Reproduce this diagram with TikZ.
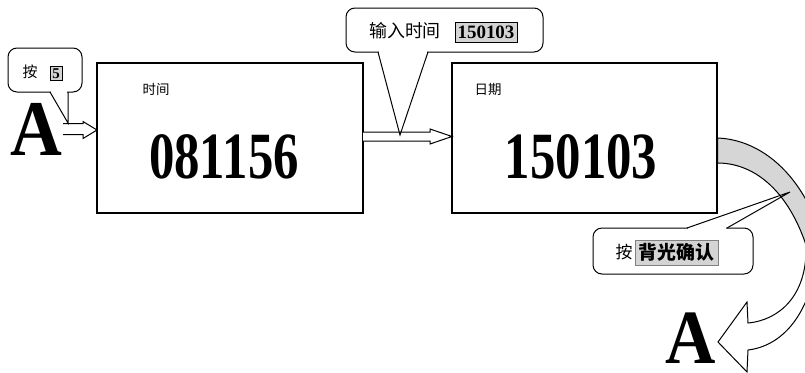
\documentclass[tikz,border=0pt]{standalone}
\usepackage{fontspec}
\setmainfont{Liberation Serif}
\newfontfamily\cjk{Noto Sans CJK SC}
\usetikzlibrary{positioning}
\definecolor{bandgray}{RGB}{214,214,214}
\definecolor{markgray}{RGB}{212,212,212}
\tikzstyle{panel} = [draw, line width=1.1bp, minimum height=150bp, inner sep=0pt]
\tikzstyle{hollow} = [draw, fill=white, line width=1bp, line join=miter]
\tikzstyle{bubble} = [draw, fill=white, line width=1bp, rounded corners=9bp]
\tikzstyle{hilite} = [fill=markgray, draw, line width=0.5bp, inner sep=1bp]
\tikzstyle{bigdigits} = [inner sep=0pt, font=\fontsize{51}{51}\selectfont\bfseries]

\begin{document}
\begin{tikzpicture}[x=1bp, y=-1bp]
\path[use as bounding box] (0,0) rectangle (805,372);
\clip (0,0) rectangle (805,372);

% Time and date panels
\node[panel, minimum width=266bp] (timebox) at (230,138) {};
\node[panel, minimum width=265bp] (datebox) at (584.5,138) {};
\node[inner sep=0pt, font=\cjk\fontsize{13.5}{13.5}\selectfont] (timelabel) at (156,89) {时间};
\node[inner sep=0pt, font=\cjk\fontsize{13.5}{13.5}\selectfont] (datelabel) at (488,89) {日期};
\node[bigdigits] (timeval) at (224,157) {\scalebox{1}[1.3]{081156}};
\node[bigdigits] (dateval) at (581,157) {\scalebox{1}[1.3]{150103}};

% Key A
\node[inner sep=0pt, font=\fontsize{72}{72}\selectfont\bfseries] (keyA) at (36,129) {\scalebox{1}[1.1]{A}};
\node[inner sep=0pt, font=\fontsize{70}{70}\selectfont\bfseries] (keyAback) at (691,338) {\scalebox{1}[1.1]{A}};

% Hollow arrows
\draw[hollow] (63,123.5) -- (83,123.5) -- (83,121.5) -- (97,130) -- (83,138.5) -- (83,134.5) -- (63,134.5);
\draw[hollow] (363,132) -- (430,132) -- (430,129) -- (452,136.5) -- (430,144) -- (430,141) -- (363,141);

% Curved arrow back to A
\draw[fill=bandgray, line width=1bp] (datebox.east |- 0,138) .. controls (770,140) and (820,190) .. (830,280)
  -- (815,280) .. controls (800,200) and (760,163) .. (datebox.east |- 0,163) -- cycle;
\draw[hollow] (806,250) .. controls (806,295) and (780,320) .. (748,323) -- (747,302) -- (718,342)
  -- (747,372) -- (748,350) .. controls (790,345) and (818,300) .. (818,235) -- cycle;

% Callout: press 5
\draw[bubble] (8,48) rectangle (82,92);
\fill[white] (51,90) rectangle (67.4,94);
\draw[line width=1bp] (50,92) -- (68,123) -- (68,92);
\node[inner sep=0pt, font=\cjk\fontsize{15}{15}\selectfont] (press) at (30,72) {按};
\node[hilite, minimum width=12bp, minimum height=14bp, font=\fontsize{15}{15}\selectfont\bfseries] (five) at (56,73.5) {5};

% Callout: enter time
\draw[bubble] (346,8) rectangle (543,52);
\fill[white] (379,50) rectangle (427,54);
\draw[line width=1bp] (378,52) -- (400,135) -- (428,52);
\node[inner sep=0pt, font=\cjk\fontsize{18}{18}\selectfont] (entertime) at (405,31) {输入时间};
\node[hilite, minimum width=62bp, minimum height=20bp, font=\fontsize{19}{19}\selectfont\bfseries] (newdate) at (486,32) {150103};

% Callout: confirm
\draw[bubble] (593,228) rectangle (753,274);
\fill[white] (688,226) rectangle (726,230);
\draw[line width=1bp] (687,228) -- (790,192) -- (727,228);
\node[inner sep=0pt, font=\cjk\fontsize{17}{17}\selectfont] (pressok) at (624,252) {按};
\node[hilite, draw=gray, minimum width=83bp, minimum height=25bp, font=\cjk\fontsize{19}{19}\selectfont\bfseries] (confirm) at (676.5,252.5) {背光确认};
\end{tikzpicture}
\end{document}
